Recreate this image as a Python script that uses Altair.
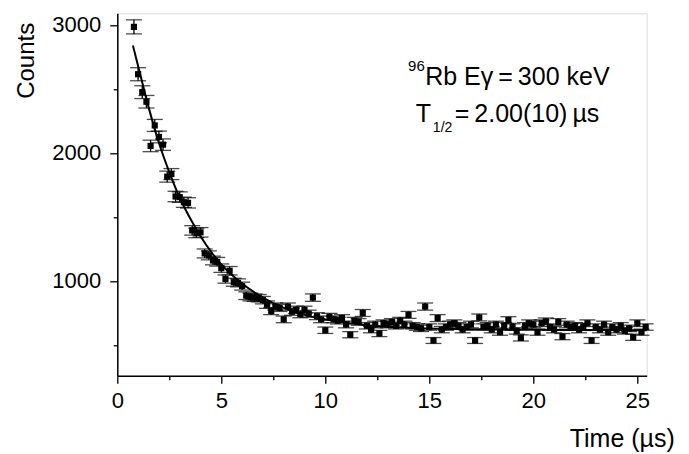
import altair as alt
import pandas as pd

FONT = "Liberation Sans"

# ---- data ----
times = [0.8, 1.0, 1.2, 1.4, 1.6, 1.8, 2.0, 2.2, 2.4, 2.6,
         2.8, 3.0, 3.2, 3.4, 3.6, 3.8, 4.0, 4.2, 4.4, 4.6,
         4.8, 5.0, 5.2, 5.4, 5.6, 5.8, 6.0, 6.2, 6.4, 6.6,
         6.8, 7.0, 7.2, 7.4, 7.6, 7.8, 8.0, 8.2, 8.4, 8.6,
         8.8, 9.0, 9.2, 9.4, 9.6, 9.8, 10.0, 10.2, 10.4, 10.6,
         10.8, 11.0, 11.2, 11.4, 11.6, 11.8, 12.0, 12.2, 12.4, 12.6,
         12.8, 13.0, 13.2, 13.4, 13.6, 13.8, 14.0, 14.2, 14.4, 14.6,
         14.8, 15.0, 15.2, 15.4, 15.6, 15.8, 16.0, 16.2, 16.4, 16.6,
         16.8, 17.0, 17.2, 17.4, 17.6, 17.8, 18.0, 18.2, 18.4, 18.6,
         18.8, 19.0, 19.2, 19.4, 19.6, 19.8, 20.0, 20.2, 20.4, 20.6,
         20.8, 21.0, 21.2, 21.4, 21.6, 21.8, 22.0, 22.2, 22.4, 22.6,
         22.8, 23.0, 23.2, 23.4, 23.6, 23.8, 24.0, 24.2, 24.4, 24.6,
         24.8, 25.0, 25.2, 25.4]

counts = [2985, 2615, 2475, 2400, 2055, 2215, 2125, 2065, 1815, 1835,
          1660, 1655, 1615, 1610, 1395, 1375, 1380, 1215, 1200, 1160,
          1150, 1100, 1015, 1080, 990, 985, 960, 885, 875, 870,
          865, 850, 815, 765, 800, 790, 700, 800, 760, 775,
          740, 775, 745, 870, 725, 700, 615, 720, 700, 690,
          710, 660, 580, 690, 680, 750, 650, 620, 660, 590,
          670, 660, 680, 650, 690, 660, 735, 650, 640, 630,
          800, 640, 535, 710, 620, 640, 660, 670, 650, 620,
          640, 660, 535, 715, 640, 650, 620, 660, 600, 650,
          695, 640, 610, 555, 650, 670, 660, 600, 670, 685,
          640, 620, 680, 565, 660, 640, 650, 620, 645, 670,
          535, 640, 620, 660, 600, 640, 620, 650, 610, 630,
          560, 670, 600, 640]

errors = [55, 51, 50, 49, 45, 47, 46, 45, 43, 43,
          41, 41, 40, 40, 37, 37, 37, 35, 35, 34,
          34, 33, 32, 33, 31, 31, 31, 30, 30, 29,
          29, 29, 29, 28, 28, 28, 26, 28, 28, 28,
          27, 28, 27, 29, 27, 26, 25, 27, 26, 26,
          27, 26, 24, 26, 26, 27, 25, 25, 26, 24,
          26, 26, 26, 25, 26, 26, 27, 25, 25, 25,
          28, 25, 23, 27, 25, 25, 26, 26, 25, 25,
          25, 26, 23, 27, 25, 25, 25, 26, 24, 25,
          26, 25, 25, 24, 25, 26, 26, 24, 26, 26,
          25, 25, 26, 24, 26, 25, 25, 25, 25, 26,
          23, 25, 25, 26, 24, 25, 25, 25, 25, 25,
          24, 26, 24, 25]

# fit curve
curve_t = [0.75, 1.0, 1.5, 2.0, 2.5, 3.0, 3.5, 4.0, 4.5, 5.0, 6.0, 7.0,
           8.0, 9.0, 10.0, 12.0, 14.0, 16.0, 18.0, 20.0, 22.0, 25.45]
curve_c = [2840, 2680, 2360, 2080, 1850, 1650, 1490, 1350, 1230, 1130, 980, 870,
           790, 735, 700, 655, 635, 625, 620, 618, 617, 616]

x_ticks = [0, 2.5, 5, 7.5, 10, 12.5, 15, 17.5, 20, 22.5, 25]
y_ticks = [500, 1000, 1500, 2000, 2500, 3000]

df = pd.DataFrame({"t": times, "counts": counts, "err": errors})
df["lo"] = df["counts"] - df["err"]
df["hi"] = df["counts"] + df["err"]
curve_df = pd.DataFrame({"t": curve_t, "c": curve_c})

xs = alt.Scale(domain=[0, 25.45], nice=False, zero=False)
ys = alt.Scale(domain=[260, 3091], nice=False, zero=False)

xaxis = alt.Axis(
    values=x_ticks,
    labelExpr="datum.value % 5 === 0 ? format(datum.value, 'd') : ''",
    tickSize={"condition": {"test": "datum.value % 5 === 0", "value": 7.5}, "value": 4},
    labelFont=FONT, labelFontSize=22, labelColor="black", labelPadding=7,
    labelFlush=False, labelOverlap=False,
    tickColor="black", tickWidth=1.3, domainColor="black", domainWidth=1.5,
    grid=False,
    title="Time (µs)", titleFont=FONT, titleFontSize=25, titleFontWeight="normal",
    titleColor="black", titleAlign="right", titleBaseline="alphabetic",
    titleX=557, titleY=71,
)
yaxis = alt.Axis(
    values=y_ticks,
    labelExpr="datum.value % 1000 === 0 ? format(datum.value, 'd') : ''",
    tickSize={"condition": {"test": "datum.value % 1000 === 0", "value": 7.5}, "value": 4},
    labelFont=FONT, labelFontSize=22, labelColor="black", labelPadding=9,
    labelOverlap=False,
    tickColor="black", tickWidth=1.3, domainColor="black", domainWidth=1.5,
    grid=False,
    title="Counts", titleFont=FONT, titleFontSize=24, titleFontWeight="normal",
    titleColor="black", titleAngle=270, titleAlign="right", titleBaseline="alphabetic",
    titleX=-84, titleY=9,
)

X = alt.X("t:Q", scale=xs, axis=xaxis, title="Time (µs)")

base = alt.Chart(df)
rules = base.mark_rule(color="black", strokeWidth=1.3).encode(
    x=X, y=alt.Y("lo:Q", scale=ys, axis=yaxis, title="Counts"), y2="hi:Q")
caps_lo = base.mark_tick(color="black", orient="horizontal", size=16, thickness=1.3).encode(
    x=alt.X("t:Q", title="Time (µs)"), y=alt.Y("lo:Q", title="Counts"))
caps_hi = base.mark_tick(color="black", orient="horizontal", size=16, thickness=1.3).encode(
    x=alt.X("t:Q", title="Time (µs)"), y=alt.Y("hi:Q", title="Counts"))
points = base.mark_point(shape="square", filled=True, size=38, color="black", opacity=1).encode(
    x=alt.X("t:Q", title="Time (µs)"), y=alt.Y("counts:Q", title="Counts"))
curve = alt.Chart(curve_df).mark_line(color="black", strokeWidth=2, interpolate="monotone").encode(
    x=alt.X("t:Q", title="Time (µs)"), y=alt.Y("c:Q", title="Counts"))

one = alt.Chart(pd.DataFrame({"k": [0]}))


def label(txt, tx, ty, size):
    return one.mark_text(text=txt, align="left", baseline="alphabetic", font=FONT,
                         fontSize=size, color="black").encode(
        x=alt.datum(tx), y=alt.datum(ty))


sup96 = one.mark_text(text="96", align="right", baseline="alphabetic", font=FONT,
                      fontSize=15, color="black").encode(x=alt.datum(14.78), y=alt.datum(2640))
line1 = label("Rb Eγ\u2009=\u2009300 keV", 14.80, 2531, 25)
t_main = label("T", 14.35, 2242, 25)
t_sub = label("1/2", 15.17, 2160, 14)
t_rest = label("=\u20092.00(10)\u2009µs", 16.22, 2242, 25)

chart = alt.layer(rules, caps_lo, caps_hi, curve, points,
                  sup96, line1, t_main, t_sub, t_rest).properties(
    width=529.4, height=362.4,
    autosize=alt.AutoSizeParams(type="none"),
    padding={"left": 117.3, "top": 13.3, "right": 42.3, "bottom": 78.3},
).configure_view(stroke="black", strokeWidth=1.5).configure(background="white")

chart.save("out.html", embed_options={"renderer": "svg", "actions": False})
